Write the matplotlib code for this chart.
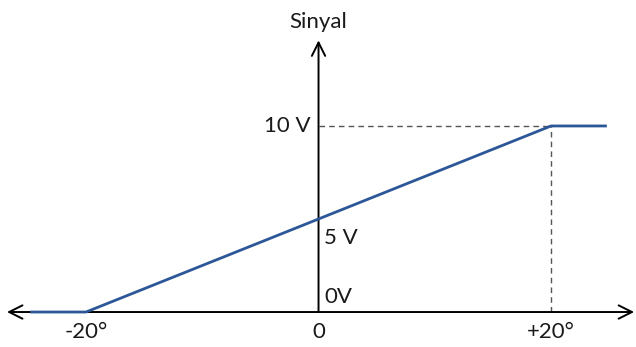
import matplotlib
matplotlib.use("Agg")
import matplotlib.pyplot as plt

# ── data ────────────────────────────────────────────────
angle = [-24.8, -20, 20, 24.8]      # derece
signal = [0, 0, 10, 10]             # volt
x_ticks = [-20, 0, 20]
x_labels = ["-20°", "0", "+20°"]

plt.rcParams["font.family"] = ["Lato", "DejaVu Sans"]

BLUE = "#2b5797"
INK = "#1a1a1a"

fig = plt.figure(figsize=(6.36, 3.47), dpi=100)
ax = fig.add_axes([0, 0, 1, 1])
ax.set_xlim(-27.4, 27.31)
ax.set_ylim(-1.88, 16.77)
ax.axis("off")

# eksenler
ax.annotate("", xy=(-26.8, 0), xytext=(27.15, 0),
            arrowprops=dict(arrowstyle="<->", lw=1.4, color="black",
                            mutation_scale=24, shrinkA=0, shrinkB=0))
ax.annotate("", xy=(0, 14.6), xytext=(0, 0),
            arrowprops=dict(arrowstyle="->", lw=1.4, color="black",
                            mutation_scale=24, shrinkA=0, shrinkB=0))

# kesikli yardımcı çizgiler
ax.plot([0, 20], [10, 10], ls=(0, (4, 3)), lw=1, color="#555555")
ax.plot([20, 20], [0, 10], ls=(0, (4, 3)), lw=1, color="#555555")

# sinyal
ax.plot(angle, signal, color=BLUE, lw=2, solid_capstyle="butt", zorder=3)

fs = 16
ax.text(0, 15.6, "Sinyal", ha="center", va="center", fontsize=fs, color=INK)
ax.text(-0.7, 10, "10 V", ha="right", va="center", fontsize=fs, color=INK)
ax.text(0.5, 4.0, "5 V", ha="left", va="center", fontsize=fs, color=INK)
ax.text(0.5, 0.8, "0V", ha="left", va="center", fontsize=fs, color=INK)
for xt, lab in zip(x_ticks, x_labels):
    ax.text(xt, -1.08, lab, ha="center", va="center", fontsize=fs, color=INK)

fig.savefig("out.png", dpi=100)
